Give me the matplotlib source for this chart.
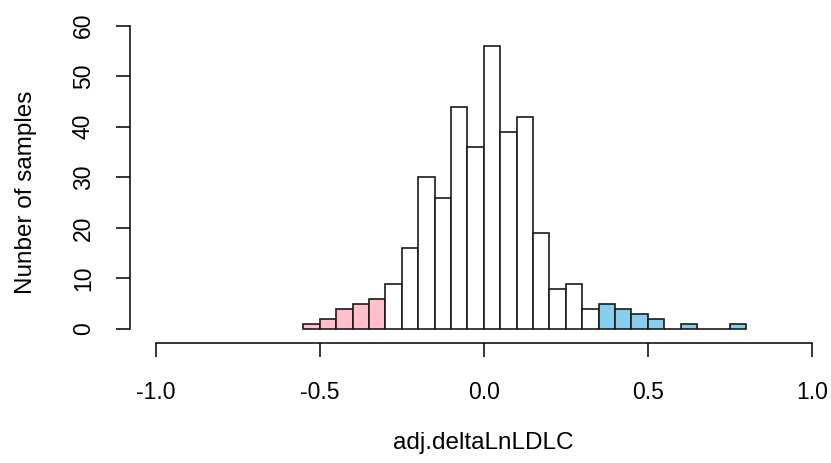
import matplotlib
matplotlib.use("Agg")
import matplotlib.pyplot as plt
import numpy as np

plt.rcParams['font.family'] = ['Liberation Sans', 'DejaVu Sans']

# histogram counts, bins of width 0.05 starting at -0.55
bin_start = -0.55
bin_width = 0.05
counts = [1, 2, 4, 5, 6, 9, 16, 30, 26, 44, 36, 56, 39, 42, 19,
          8, 9, 4, 5, 4, 3, 2, 0, 1, 0, 0, 1]
low_cut = -0.30    # bins below -> pink
high_cut = 0.35    # bins from here -> blue

x_ticks = [-1.0, -0.5, 0.0, 0.5, 1.0]
x_labels = ["-1.0", "-0.5", "0.0", "0.5", "1.0"]
y_ticks = [0, 10, 20, 30, 40, 50, 60]

W, H = 831, 463
fig = plt.figure(figsize=(W / 100, H / 100), dpi=100)
x0, x1 = 155.7, 811.7
y0, y1 = 329, 25.7
ax = fig.add_axes([x0 / W, (H - y0) / H, (x1 - x0) / W, (y0 - y1) / H])

lefts = np.round(bin_start + bin_width * np.arange(len(counts)), 4)
colors = []
for l in lefts:
    if l < low_cut - 1e-9:
        colors.append("pink")
    elif l >= high_cut - 1e-9:
        colors.append("skyblue")
    else:
        colors.append("white")

ax.bar(lefts, counts, width=bin_width, align="edge", color=colors,
       edgecolor="#1a1a1a", linewidth=1.2, clip_on=False)

ax.set_xlim(-1, 1)
ax.set_ylim(0, 60)
ax.spines["top"].set_visible(False)
ax.spines["right"].set_visible(False)
ax.spines["left"].set_position(("outward", 26 * 0.72))
ax.spines["bottom"].set_position(("outward", 14 * 0.72))
ax.spines["left"].set_bounds(0, 60)
ax.spines["bottom"].set_bounds(-1, 1)
for s in ["left", "bottom"]:
    ax.spines[s].set_linewidth(1.1)

ax.set_xticks(x_ticks)
ax.set_xticklabels(x_labels)
ax.set_yticks(y_ticks)
ax.set_yticklabels([str(v) for v in y_ticks], rotation=90, va="center")
ax.tick_params(axis="both", length=10, width=1.1, labelsize=16.5)
ax.tick_params(axis="x", pad=17.5)
ax.tick_params(axis="y", pad=15)

ax.set_xlabel("adj.deltaLnLDLC", fontsize=17.5)
ax.xaxis.set_label_coords(0.5, -0.34)
ax.set_ylabel("Nunber of samples", fontsize=17.5)
ax.yaxis.label.set_va("center")
ax.yaxis.set_label_coords(-0.198, 0.45)

fig.savefig("out.png", dpi=100)
